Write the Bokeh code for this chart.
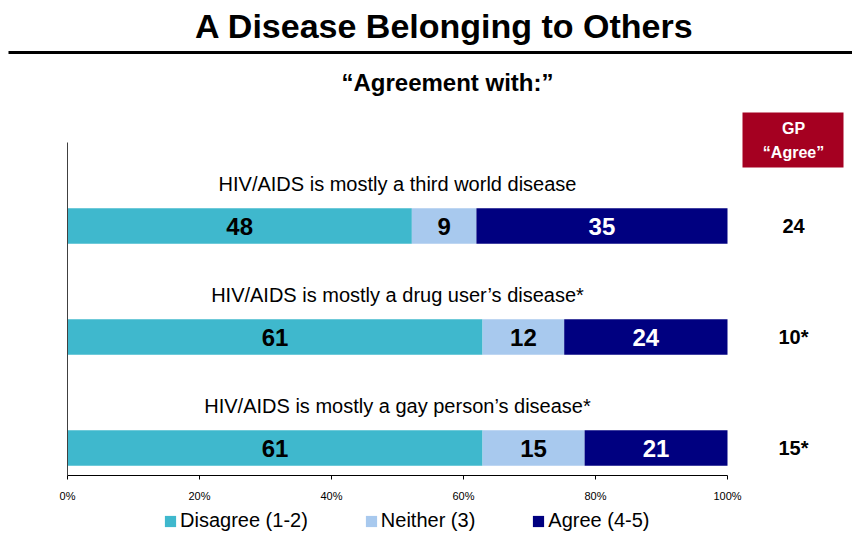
from bokeh.plotting import figure
from bokeh.layouts import column
from bokeh.models import (Range1d, FixedTicker, PrintfTickFormatter, Legend,
                          LegendItem, ColumnDataSource)
from bokeh.core.properties import value
from bokeh.embed import file_html
from bokeh.resources import INLINE

# ---------------- data ----------------
title = "A Disease Belonging to Others"
subtitle = "“Agreement with:”"
statements = [
    "HIV/AIDS is mostly a third world disease",
    "HIV/AIDS is mostly a drug user’s disease*",
    "HIV/AIDS is mostly a gay person’s disease*",
]
disagree = [48, 61, 61]
neither = [9, 12, 15]
agree = [35, 24, 21]
gp_header = ["GP", "“Agree”"]
gp_agree = ["24", "10*", "15*"]
series_labels = ["Disagree (1-2)", "Neither (3)", "Agree (4-5)"]
series_colors = ["#3FB8CD", "#A8C9EE", "#000080"]
label_colors = ["black", "black", "white"]
x_ticks = [0, 20, 40, 60, 80, 100]

# ---------------- layout helpers (pixels -> data) ----------------
W = 852
H_MAIN, H_LEG = 505, 27
X0_PX, PX_PER_PCT = 67, 6.6          # 0% position and px per percent
ROW0_PX, ROW_PX = 225.5, 111         # first bar centre and row pitch
FRAME_BOTTOM = 475
BAR_H = 35.4 / ROW_PX


def fx(cx):
    return (cx - X0_PX) / PX_PER_PCT


def fy(cy):
    return (cy - ROW0_PX) / ROW_PX


FONT = value("Liberation Sans")

p = figure(width=W, height=H_MAIN, output_backend="svg", toolbar_location=None,
           x_range=Range1d(fx(0), fx(W)),
           y_range=Range1d(fy(FRAME_BOTTOM), fy(0)),
           y_axis_location=None,
           min_border_left=0, min_border_right=0, min_border_top=0,
           min_border_bottom=H_MAIN - FRAME_BOTTOM)
p.outline_line_color = None
p.xgrid.visible = False
p.ygrid.visible = False
p.background_fill_color = "white"
p.border_fill_color = "white"

# ---------------- stacked, normalised bars ----------------
rows = list(range(len(statements)))
series = [disagree, neither, agree]
totals = [d + n + a for d, n, a in zip(disagree, neither, agree)]
cum = [0.0] * len(rows)
for vals, color, lcol in zip(series, series_colors, label_colors):
    left = cum[:]
    right = [c + 100.0 * v / t for c, v, t in zip(cum, vals, totals)]
    src = ColumnDataSource(dict(y=rows, left=left, right=right,
                                mid=[(l + r) / 2 for l, r in zip(left, right)],
                                txt=[str(v) for v in vals]))
    p.hbar(y="y", left="left", right="right", height=BAR_H, source=src,
           fill_color=color, line_color=None)
    p.text(x="mid", y="y", text="txt", source=src, text_font=FONT,
           text_font_style="bold", text_font_size="24px", text_color=lcol,
           text_align="center", text_baseline="middle")
    cum = right

# statement labels above bars
p.text(x=[50] * len(rows), y=[r - 42.5 / ROW_PX for r in rows], text=statements,
       text_font=FONT, text_font_size="20px", text_color="black",
       text_align="center", text_baseline="middle")

# GP agree values
p.text(x=[fx(793)] * len(rows), y=rows, text=gp_agree, text_font=FONT,
       text_font_style="bold", text_font_size="20px", text_color="black",
       text_align="center", text_baseline="middle")

# GP header box
p.quad(left=[fx(742)], right=[fx(843)], top=[fy(112)], bottom=[fy(167)],
       fill_color="#A50021", line_color=None)
p.text(x=[fx(793)] * 2, y=[fy(128), fy(152)], text=gp_header, text_font=FONT,
       text_font_style="bold", text_font_size="16px", text_color="white",
       text_align="center", text_baseline="middle")

# vertical category axis line
p.segment(x0=[0], x1=[0], y0=[fy(142)], y1=[fy(FRAME_BOTTOM)],
          line_color="#404040", line_width=1)

# title, rule and subtitle
p.text(x=[fx(444)], y=[fy(25)], text=[title], text_font=FONT,
       text_font_style="bold", text_font_size="34px", text_color="black",
       text_align="center", text_baseline="middle")
p.segment(x0=[fx(8)], x1=[fx(W)], y0=[fy(52)], y1=[fy(52)],
          line_color="black", line_width=3)
p.text(x=[fx(447)], y=[fy(82)], text=[subtitle], text_font=FONT,
       text_font_style="bold", text_font_size="24px", text_color="black",
       text_align="center", text_baseline="middle")

# x axis
ax = p.xaxis[0]
ax.ticker = FixedTicker(ticks=x_ticks)
ax.formatter = PrintfTickFormatter(format="%d%%")
ax.bounds = (0, 100)
ax.axis_line_color = "black"
ax.major_tick_line_color = "black"
ax.major_tick_in = 0
ax.major_tick_out = 4
ax.minor_tick_line_color = None
ax.major_label_standoff = 10
ax.major_label_text_font = "Liberation Sans"
ax.major_label_text_font_size = "11px"
ax.major_label_text_color = "black"

# ---------------- legend strip ----------------
lf = figure(width=W, height=H_LEG, output_backend="svg", toolbar_location=None,
            x_range=Range1d(0, W), y_range=Range1d(0, H_LEG),
            x_axis_location=None, y_axis_location=None,
            min_border_left=0, min_border_right=0, min_border_top=0,
            min_border_bottom=0)
lf.outline_line_color = None
lf.xgrid.visible = False
lf.ygrid.visible = False
# legend swatches: renderers whose only bar lies outside the visible strip
leg_renderers = [lf.hbar(y=[-100], left=[0], right=[1], height=1,
                         fill_color=c, line_color=None) for c in series_colors]
legend = Legend(items=[LegendItem(label=l, renderers=[r])
                       for l, r in zip(series_labels, leg_renderers)],
                orientation="horizontal", location=(163, 0),
                glyph_width=14, glyph_height=14, label_standoff=3, spacing=56,
                label_text_font="Liberation Sans", label_text_font_size="20px",
                label_text_color="black", border_line_color=None,
                background_fill_alpha=0, padding=0, margin=0)
lf.add_layout(legend)

layout = column(p, lf, spacing=0)
open("out.html", "w").write(file_html(layout, INLINE))
